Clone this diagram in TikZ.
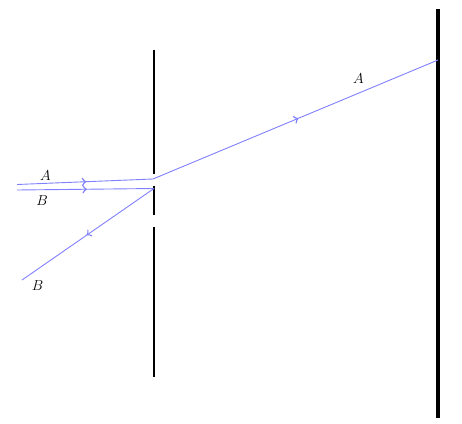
\documentclass[tikz,border=0pt]{standalone}
\usetikzlibrary{decorations.markings}
\begin{document}
\begin{tikzpicture}[x=1pt,y=-1pt,
  wall/.style={line width=2.7pt},
  screen/.style={line width=4pt},
  ray/.style={blue!50,line width=0.9pt,postaction={decorate},
    decoration={markings,mark=at position 0.51 with {\arrow[scale=1.6]{to}}}},
  lbl/.style={font=\fontsize{15}{18}\selectfont}]
\useasboundingbox (0,0) rectangle (462,423);
% walls
\coordinate (w1a) at (154,50);  \coordinate (w1b) at (154,174);
\coordinate (w2a) at (154,186); \coordinate (w2b) at (154,215);
\coordinate (w3a) at (154,227); \coordinate (w3b) at (154,377);
\coordinate (sa) at (438,9);    \coordinate (sb) at (438,418);
\draw[wall] (w1a) -- (w1b);
\draw[wall] (w2a) -- (w2b);
\draw[wall] (w3a) -- (w3b);
\draw[screen] (sa) -- (sb);
% rays
\coordinate (a0) at (17,184.5);
\coordinate (a1) at (153,179);
\coordinate (a2) at (438,60);
\coordinate (b0) at (17,190);
\coordinate (b1) at (154,188.5);
\coordinate (b2) at (22,280);
\draw[ray] (a0) -- (a1);
\draw[ray] (a1) -- (a2);
\draw[ray] (b0) -- (b1);
\draw[ray] (b1) -- (b2);
% labels
\node[lbl] (la1) at (45.5,175.5) {$A$};
\node[lbl] (lb1) at (42,201) {$B$};
\node[lbl] (la2) at (358.5,78.5) {$A$};
\node[lbl] (lb2) at (37.5,285.5) {$B$};
\end{tikzpicture}
\end{document}
